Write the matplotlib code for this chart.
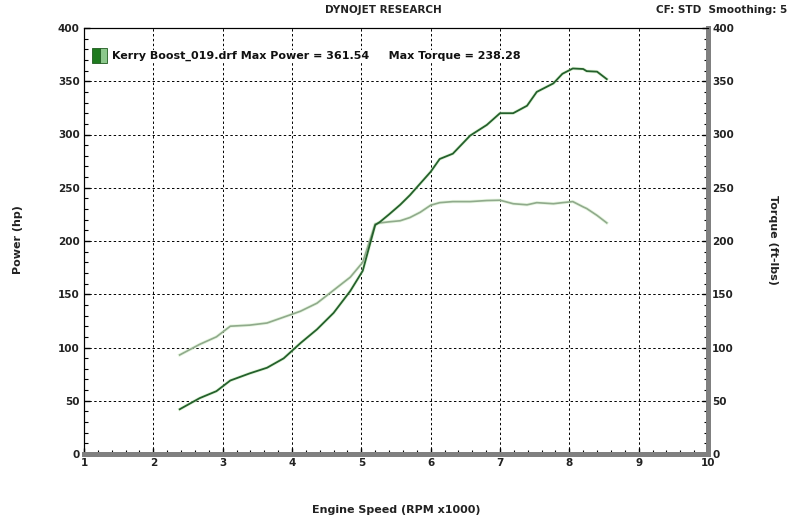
import numpy as np
import matplotlib
matplotlib.use("Agg")
import matplotlib.pyplot as plt
from matplotlib.patches import Rectangle

# values (rpm x1000)
rpm = [2.38, 2.67, 2.91, 3.11, 3.39, 3.64, 3.88, 4.12, 4.36, 4.60, 4.84, 5.02,
       5.12, 5.20, 5.27, 5.40, 5.56, 5.70, 5.85, 6.00, 6.13, 6.32, 6.57, 6.81,
       7.00, 7.19, 7.39, 7.53, 7.77, 7.90, 8.05, 8.20, 8.25, 8.40, 8.54]
power_hp = [42, 52.5, 59, 69, 75.7, 81, 89.8, 104, 117, 132.5, 153, 172,
            196, 215, 218, 225, 234, 243, 254, 265, 277, 282, 299, 309,
            320, 320, 327, 340, 348, 357, 362, 361.5, 359.5, 359, 352]
torque_ftlb = [93, 103, 110, 120, 121, 123, 128.5, 134, 141.6, 153.8, 166, 180,
               200, 216, 217, 218, 219, 222, 227, 233.6, 236, 237, 237, 238,
               238.3, 235, 234, 236, 235, 236, 237, 232, 230.5, 224, 217]

run_name = "Kerry Boost_019.drf"
max_power = 361.54
max_torque = 238.28

power_color = "#24602c"
torque_color = "#90aa8c"
glow = "#c4ecb4"

fig = plt.figure(figsize=(7.95, 5.27), dpi=100)
ax = fig.add_axes([84 / 795, 73 / 527, 624 / 795, 426 / 527])
ax2 = ax.twinx()

for a in (ax, ax2):
    a.set_xlim(1, 10)
    a.set_ylim(0, 400)

tick_font = dict(fontsize=7.5, fontweight="bold", color="#222222")

ax.set_xticks(np.arange(1, 11, 1))
ax.set_xticks(np.arange(1, 10.01, 0.2), minor=True)
ax.set_yticks(np.arange(0, 401, 50))
ax.set_yticks(np.arange(0, 401, 10), minor=True)
ax2.set_yticks(np.arange(0, 401, 50))
ax2.set_yticks(np.arange(0, 401, 10), minor=True)
ax.set_xticklabels([str(v) for v in range(1, 11)], **tick_font)
ax.set_yticklabels([str(v) for v in range(0, 401, 50)], **tick_font)
ax2.set_yticklabels([str(v) for v in range(0, 401, 50)], **tick_font)

ax.tick_params(axis="both", which="major", length=4, width=1, direction="in", pad=3)
ax.tick_params(axis="both", which="minor", length=3, width=0.8, direction="in")
ax2.tick_params(axis="y", which="major", length=4, width=1, direction="in", pad=3)
ax2.tick_params(axis="y", which="minor", length=3, width=0.8, direction="in")

ax.grid(True, which="major", color="black", linestyle=(0, (2.5, 2.5)), linewidth=0.7)

for a in (ax, ax2):
    a.spines["top"].set_color("black")
    a.spines["left"].set_color("black")
    a.spines["right"].set_color("#808080")
    a.spines["bottom"].set_color("#808080")
    a.spines["right"].set_linewidth(3.5)
    a.spines["bottom"].set_linewidth(3.5)

# curves with a faint light-green halo
ax.plot(rpm, torque_ftlb, color=glow, linewidth=2.4, alpha=0.4, zorder=3)
ax.plot(rpm, torque_ftlb, color=torque_color, linewidth=1.2, zorder=4)
ax.plot(rpm, power_hp, color=glow, linewidth=2.4, alpha=0.5, zorder=3)
ax.plot(rpm, power_hp, color=power_color, linewidth=1.3, zorder=5)

# legend entry
ax.add_patch(Rectangle((0.013, 0.917), 0.012, 0.036, transform=ax.transAxes,
                       facecolor="#1e7a1e", edgecolor="#1e5a1e", linewidth=0.6,
                       zorder=6, clip_on=False))
ax.add_patch(Rectangle((0.025, 0.917), 0.012, 0.036, transform=ax.transAxes,
                       facecolor="#8cc88c", edgecolor="#1e5a1e", linewidth=0.6,
                       zorder=6, clip_on=False))
ax.text(0.045, 0.935,
        f"{run_name} Max Power = {max_power:.2f}     Max Torque = {max_torque:.2f}",
        transform=ax.transAxes, fontsize=8, fontweight="bold", color="#111111",
        va="center", ha="left", zorder=6,
        bbox=dict(facecolor="white", edgecolor="none", pad=0.5))

fig.text(383 / 795, 1 - 10 / 527, "DYNOJET RESEARCH", ha="center", va="center",
         fontsize=7.5, fontweight="bold", color="#222222")
fig.text(787 / 795, 1 - 10 / 527, "CF: STD  Smoothing: 5", ha="right", va="center",
         fontsize=7.5, fontweight="bold", color="#222222")
fig.text(18 / 795, 1 - 240 / 527, "Power (hp)", rotation=90, ha="center",
         va="center", fontsize=8, fontweight="bold", color="#222222")
fig.text(773 / 795, 1 - 240 / 527, "Torque (ft-lbs)", rotation=-90, ha="center",
         va="center", fontsize=8, fontweight="bold", color="#222222")
fig.text(396 / 795, 1 - 510 / 527, "Engine Speed (RPM x1000)", ha="center",
         va="center", fontsize=8, fontweight="bold", color="#222222")

fig.savefig("out.png", dpi=100)
